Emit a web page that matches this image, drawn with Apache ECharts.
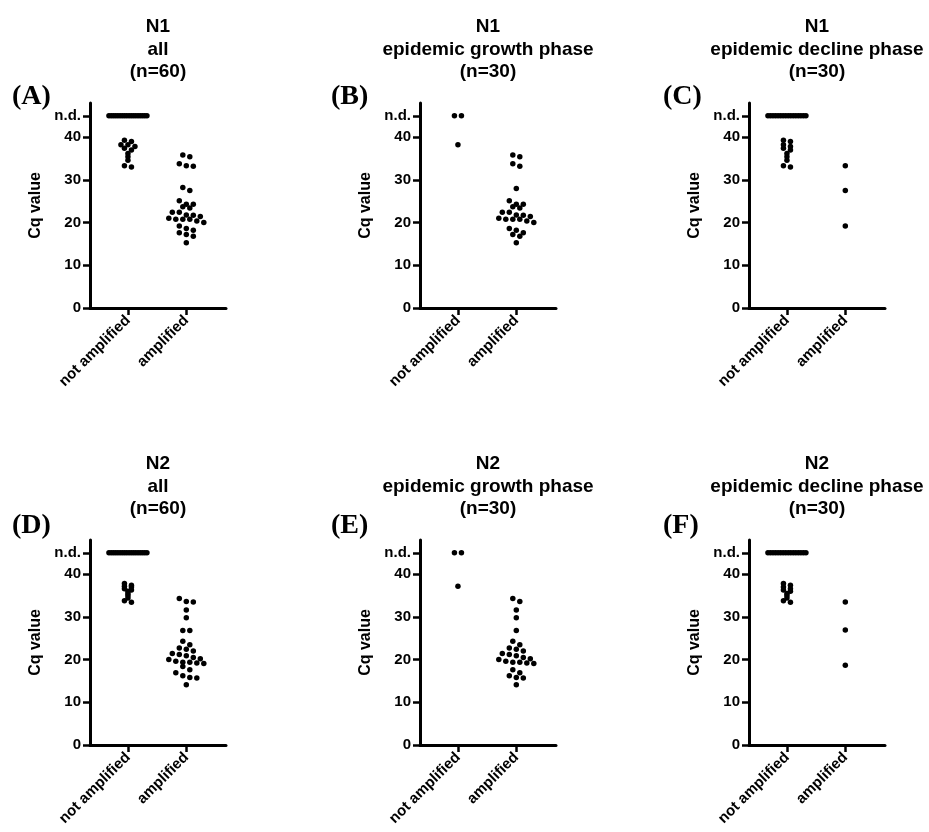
<!DOCTYPE html>
<html>
<head>
<meta charset="utf-8">
<script src="https://cdn.jsdelivr.net/npm/echarts@6/dist/echarts.min.js"></script>
<style>
  html, body { margin: 0; padding: 0; background: #fff; }
  #main { width: 929px; height: 832px; }
</style>
</head>
<body>
<div id="main"></div>
<script>
// categories and axis ticks
var categories = ['not amplified', 'amplified'];
var yTicks = [0, 10, 20, 30, 40];
var ndLevel = 45;            // where "n.d." sits on the Cq axis
var ndLabel = 'n.d.';

var letters = ['(A)', '(B)', '(C)', '(D)', '(E)', '(F)'];
var titles = [
  'N1\nall\n(n=60)',
  'N1\nepidemic growth phase\n(n=30)',
  'N1\nepidemic decline phase\n(n=30)',
  'N2\nall\n(n=60)',
  'N2\nepidemic growth phase\n(n=30)',
  'N2\nepidemic decline phase\n(n=30)'
];

// N1 - all
var n1AllND = 18;
var n1AllNotAmp = [39.3, 39.0, 38.2, 38.2, 37.8, 37.4, 37.0, 36.2, 35.4, 34.6, 33.3, 33.0];
var n1AllAmp = [35.8, 35.4, 33.8, 33.3, 33.2, 28.2, 27.5, 25.1, 24.3, 24.3, 23.7, 23.4, 22.4, 22.4,
  21.8, 21.7, 21.4, 21.0, 20.8, 20.8, 20.8, 20.4, 20.0, 19.2, 18.6, 18.2, 17.6, 17.2, 16.8, 15.3];
// N1 - growth phase
var n1GrowthND = 2;
var n1GrowthNotAmp = [38.2];
var n1GrowthAmp = [35.8, 35.4, 33.8, 33.2, 28.0, 25.1, 24.3, 24.3, 23.7, 23.4, 22.4, 22.4, 21.8,
  21.7, 21.4, 21.0, 20.8, 20.8, 20.8, 20.4, 20.0, 18.6, 18.2, 17.6, 17.2, 16.8, 15.3];
// N1 - decline phase
var n1DeclineND = 16;
var n1DeclineNotAmp = [39.3, 39.0, 38.2, 37.8, 37.4, 37.0, 36.2, 35.4, 34.6, 33.3, 33.0];
var n1DeclineAmp = [33.3, 27.5, 19.2];

// N2 - all
var n2AllND = 18;
var n2AllNotAmp = [37.8, 37.4, 37.2, 37.0, 36.6, 36.3, 36.0, 35.5, 35.0, 34.4, 33.8, 33.4];
var n2AllAmp = [34.3, 33.6, 33.5, 31.6, 29.8, 26.8, 26.8, 24.3, 23.5, 22.7, 22.4, 22.0, 21.4, 21.2,
  20.9, 20.5, 20.2, 20.0, 19.6, 19.4, 19.4, 19.2, 19.1, 18.4, 17.6, 16.9, 16.2, 15.8, 15.7, 14.1];
// N2 - growth phase
var n2GrowthND = 2;
var n2GrowthNotAmp = [37.2];
var n2GrowthAmp = [34.3, 33.6, 31.6, 29.8, 26.8, 24.3, 23.5, 22.7, 22.4, 22.0, 21.4, 21.2, 20.9,
  20.5, 20.2, 20.0, 19.6, 19.4, 19.4, 19.2, 19.1, 17.6, 16.9, 16.2, 15.8, 15.7, 14.1];
// N2 - decline phase
var n2DeclineND = 16;
var n2DeclineNotAmp = [37.8, 37.4, 37.0, 36.6, 36.3, 36.0, 35.5, 35.0, 34.4, 33.8, 33.4];
var n2DeclineAmp = [33.5, 26.9, 18.7];

var panels = [
  { nd: n1AllND, notAmp: n1AllNotAmp, amp: n1AllAmp },
  { nd: n1GrowthND, notAmp: n1GrowthNotAmp, amp: n1GrowthAmp },
  { nd: n1DeclineND, notAmp: n1DeclineNotAmp, amp: n1DeclineAmp },
  { nd: n2AllND, notAmp: n2AllNotAmp, amp: n2AllAmp },
  { nd: n2GrowthND, notAmp: n2GrowthNotAmp, amp: n2GrowthAmp },
  { nd: n2DeclineND, notAmp: n2DeclineNotAmp, amp: n2DeclineAmp }
];

// layout
var gridLefts = [90, 420, 749];
var gridTops = [103, 540];
var gridW = 136, gridH = 205;
var xMin = -0.65, xMax = 1.68;
var pxPerUnit = gridW / (xMax - xMin);
var dotStepPx = 7, maxRowPx = 38;

// simple beeswarm: values close together share a row and get spread sideways
function swarm(values, center, rowBin) {
  var sorted = values.slice().sort(function (a, b) { return b - a; });
  var rows = [];
  sorted.forEach(function (v) {
    var row = rows[rows.length - 1];
    if (row && row[0] - v < rowBin) row.push(v); else rows.push([v]);
  });
  var pts = [];
  rows.forEach(function (row) {
    var k = row.length;
    var step = k > 1 ? Math.min(dotStepPx, maxRowPx / (k - 1)) : 0;
    row.forEach(function (v, i) {
      pts.push([center + (i - (k - 1) / 2) * step / pxPerUnit, v]);
    });
  });
  return pts;
}

var grid = [], xAxis = [], yAxis = [], series = [], graphic = [];
var fontFamily = '"Liberation Sans", Arial, sans-serif';
var labelFont = { color: '#000', fontWeight: 'bold', fontSize: 15, fontFamily: fontFamily };

panels.forEach(function (p, i) {
  var left = gridLefts[i % 3];
  var top = gridTops[Math.floor(i / 3)];
  grid.push({ left: left, top: top, width: gridW, height: gridH });

  xAxis.push({
    type: 'value', gridIndex: i, min: xMin, max: xMax,
    axisLine: { onZero: false, lineStyle: { color: '#000', width: 3 } },
    axisTick: { customValues: [0, 1], length: 7, lineStyle: { color: '#000', width: 2.5 } },
    axisLabel: Object.assign({
      customValues: [0, 1], rotate: 45, margin: 10,
      formatter: function (v) { return categories[Math.round(v)]; }
    }, labelFont),
    splitLine: { show: false }
  });

  yAxis.push({
    type: 'value', gridIndex: i, min: 0, max: 48,
    name: 'Cq value', nameLocation: 'middle', nameGap: 46,
    nameTextStyle: { color: '#000', fontWeight: 'bold', fontSize: 16, fontFamily: fontFamily },
    axisLine: { onZero: false, lineStyle: { color: '#000', width: 3 } },
    axisTick: { customValues: yTicks.concat([ndLevel]), length: 7, lineStyle: { color: '#000', width: 2.5 } },
    axisLabel: Object.assign({
      customValues: yTicks.concat([ndLevel]), margin: 9,
      formatter: function (v) { return v === ndLevel ? ndLabel : String(v); }
    }, labelFont),
    splitLine: { show: false }
  });

  var ndValues = [];
  for (var k = 0; k < p.nd; k++) ndValues.push(ndLevel);
  var data = swarm(p.notAmp, 0, 0.5)
    .concat(swarm(ndValues, 0, 1))
    .concat(swarm(p.amp, 1, 1.25));
  series.push({
    type: 'scatter', xAxisIndex: i, yAxisIndex: i,
    symbol: 'circle', symbolSize: 5.5,
    itemStyle: { color: '#000', opacity: 1 },
    data: data
  });

  graphic.push({
    type: 'text', x: left + gridW / 2, y: top - 87,
    style: {
      text: titles[i], textAlign: 'center', textVerticalAlign: 'top',
      fill: '#000', font: 'bold 19px ' + fontFamily, lineHeight: 22.5
    }
  });
  graphic.push({
    type: 'text', x: [12, 331, 663][i % 3], y: i < 3 ? 97 : 526,
    style: {
      text: letters[i], textAlign: 'left', textVerticalAlign: 'middle',
      fill: '#000', font: 'bold 28px "Liberation Serif", "Times New Roman", serif'
    }
  });
});

var chart = echarts.init(document.getElementById('main'));
chart.setOption({
  animation: false,
  backgroundColor: '#fff',
  grid: grid,
  xAxis: xAxis,
  yAxis: yAxis,
  series: series,
  graphic: graphic
});
</script>
</body>
</html>
